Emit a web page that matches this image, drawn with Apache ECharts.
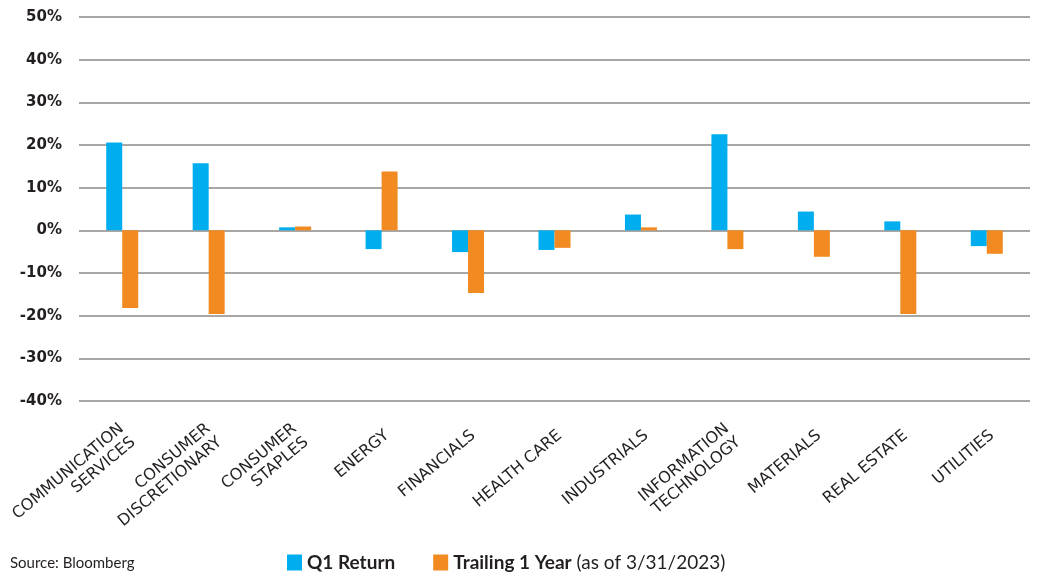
<!DOCTYPE html>
<html>
<head>
<meta charset="utf-8">
<script src="https://cdn.jsdelivr.net/npm/echarts@6/dist/echarts.min.js"></script>
<style>
    html, body { margin: 0; padding: 0; background: #fff; }
    #chart { width: 1039px; height: 576px; }
</style>
</head>
<body>
<div id="chart"></div>
<script>
// 行业分类
const sectors = [
    "COMMUNICATION\nSERVICES",
    "CONSUMER\nDISCRETIONARY",
    "CONSUMER\nSTAPLES",
    "ENERGY",
    "FINANCIALS",
    "HEALTH CARE",
    "INDUSTRIALS",
    "INFORMATION\nTECHNOLOGY",
    "MATERIALS",
    "REAL ESTATE",
    "UTILITIES",
];
// 一季度收益 (%)
const q1Return = [20.6, 15.7, 0.7, -4.4, -5.1, -4.6, 3.7, 22.5, 4.4, 2.1, -3.7];
// 过去一年收益 (%)
const trailingYear = [-18.2, -19.6, 0.9, 13.8, -14.7, -4.1, 0.7, -4.4, -6.2, -19.6, -5.5];
// 纵轴范围
const yMin = -40;
const yMax = 50;
const yStep = 10;

const seriesNames = ["Q1 Return", "Trailing 1 Year"];
const font = "Lato, 'Open Sans', sans-serif";
const wideFont = "'DejaVu Sans', sans-serif";
const textColor = "#231f20";

const chart = echarts.init(document.getElementById("chart"));

chart.setOption({
    animation: false,
    textStyle: { fontFamily: font },
    grid: {
        left: 79,
        right: 9,
        top: 17,
        bottom: 175,
    },
    legend: {
        data: seriesNames,
        top: 548,
        left: 282,
        itemWidth: 15,
        itemHeight: 16,
        itemGap: 38,
        icon: "rect",
        textStyle: {
            fontFamily: font,
            fontSize: 19,
            color: textColor,
            rich: {
                b: { fontFamily: font, fontSize: 19, fontWeight: "bold", color: textColor },
                n: { fontFamily: font, fontSize: 19, color: textColor },
            },
        },
        formatter(name) {
            if (name === "Trailing 1 Year") {
                return "{b|Trailing 1 Year} {n|(as of 3/31/2023)}";
            }
            return "{b|" + name + "}";
        },
    },
    graphic: [
        {
            type: "text",
            left: 10,
            top: 556,
            style: {
                text: "Source: Bloomberg",
                fontFamily: font,
                fontSize: 15,
                fill: textColor,
            },
        },
    ],
    xAxis: {
        type: "category",
        data: sectors,
        axisLine: { show: false },
        axisTick: { show: false },
        axisLabel: {
            interval: 0,
            rotate: 40,
            margin: 37,
            padding: [0, -7, 0, 0],
            fontFamily: wideFont,
            fontSize: 16,
            lineHeight: 18,
            color: textColor,
        },
    },
    yAxis: {
        type: "value",
        min: yMin,
        max: yMax,
        interval: yStep,
        axisLine: { show: false },
        axisTick: { show: false },
        axisLabel: {
            formatter: "{value}%",
            margin: 17,
            fontFamily: wideFont,
            fontSize: 15,
            fontWeight: "bold",
            color: textColor,
        },
        splitLine: {
            lineStyle: { color: "#8c8884", width: 1.5 },
        },
    },
    series: [
        {
            name: seriesNames[0],
            type: "bar",
            data: q1Return,
            barWidth: 16,
            barGap: "0%",
            itemStyle: { color: "#00adef" },
        },
        {
            name: seriesNames[1],
            type: "bar",
            data: trailingYear,
            barWidth: 16,
            barGap: "0%",
            itemStyle: { color: "#f08a21" },
        },
    ],
});
</script>
</body>
</html>
